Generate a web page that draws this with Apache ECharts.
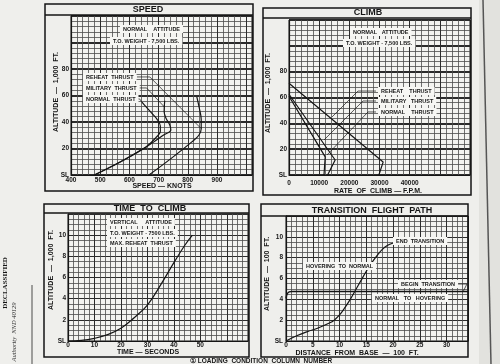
<!DOCTYPE html>
<html><head><meta charset="utf-8">
<script src="https://cdn.jsdelivr.net/npm/echarts@6/dist/echarts.min.js"></script>
<style>html,body{margin:0;padding:0;background:#efefec;}#c{width:500px;height:364px;}</style>
</head><body><div id="c"></div>
<script>
// ---------- data ----------
// SPEED panel: [speed knots, altitude 1000 ft]
const speedNormal   = [[480,0],[570,10],[656,21],[690,28],[706,33],[706,37],[695,42],[675,47],[655,52],[643,55]];
const speedMilitary = [[480,0],[570,10],[656,21],[684,25],[716,30],[742,34],[738,38],[725,43],[719,48],[720,53],[721,56]];
const speedReheat   = [[667,0],[740,12],[814,25],[838,30],[846,35],[846,42],[840,50],[831,59]];
const speedXLabels  = [400,500,600,700,800,900];
const altLabels     = [0,20,40,60,80];
// CLIMB panel: [rate of climb fpm, altitude 1000 ft]
const climbReheat   = [[0,71],[31200,10],[29800,0]];
const climbMilitary = [[0,62.5],[15300,11.6],[12800,0]];
const climbNormal   = [[0,61],[12000,14],[11600,0]];
const climbXLabels  = [0,10000,20000,30000,40000];
// TIME TO CLIMB panel
const timeSeconds   = [0,5,10,15,20,25,30,35,40,44,47];
const timeAltitude  = [0,0.05,0.25,0.6,1.2,2.2,3.4,5.3,7.4,9,10];
const timeXLabels   = [0,10,20,30,40,50];
const smallAltLabels= [0,2,4,6,8,10];
// TRANSITION FLIGHT PATH panel: [distance 100 ft, altitude 100 ft]
const hoverToNormal = [[0,0],[2,0.5],[4,0.9],[6,1.25],[8,1.7],[9,2.0],[10,2.5],[11,3.2],[12,4.0],[13,4.9],[14,5.8],[15,6.7],[16,7.5],[17,8.2],[18,8.8],[19,9.2],[20,9.4],[21,9.5]];
const normalToHover = [[0,4.1],[0.3,4.6],[1,4.75],[34,4.75]];
const distXLabels   = [0,5,10,15,20,25,30];
// annotation leader lines (data space)
const leadSpeedReheat = [[626,74],[670,74],[846,35]];
const leadSpeedMil    = [[611,65.7],[659,65.7],[720,51.3]];
const leadSpeedNorm   = [[611,57.4],[635,57.4],[643,55]];
const leadClimbReheat = [[28840,65],[22870,65],[14250,44.9]];
const leadClimbMil    = [[28840,57.3],[24530,57.3],[11600,27.1]];
const leadClimbNorm   = [[28840,48.8],[26190,48.8],[12600,15.5]];
const leadBegin       = [[30.3,5.47],[33.8,5.47],[33.1,4.75]];

// ---------- chart ----------
const FONT = '"Liberation Sans", Arial, sans-serif';
const INK = '#151515';
const chart = echarts.init(document.getElementById('c'), null, {renderer:'canvas'});

function mkAxis(type, gi, min, max, interval, minorN, labels, majorW, margin, isY){
  return {
    type:'value', gridIndex:gi, min, max, interval,
    axisLine:{show:true, lineStyle:{color:INK, width:1.2}},
    axisTick:{show:false},
    minorTick:{show:false, splitNumber:minorN},
    splitLine:{show:true, lineStyle:{color:'#2b2b2b', width:majorW}},
    minorSplitLine:{show:true, lineStyle:{color:'#4d4d4d', width:0.8}},
    axisLabel:{
      show:true, margin, color:INK, fontFamily:FONT, fontWeight:'bold', fontSize: isY?6.5:6.5,
      showMinLabel:true, showMaxLabel:true,
      formatter: v => labels.indexOf(v) < 0 ? '' : (isY && v===0 ? 'SL' : String(v))
    }
  };
}
function ln(data, gi, w, smooth){
  return {type:'line', xAxisIndex:gi, yAxisIndex:gi, data, symbol:'none', showSymbol:false,
    smooth: smooth||false, silent:true, animation:false, z:5,
    lineStyle:{color:INK, width:w}};
}
function T(text, x, y, size, extra){
  return {type:'text', x, y, z:100, silent:true,
    style:Object.assign({text, font:'bold '+size+'px '+FONT, fill:INK,
      textAlign:'left', textVerticalAlign:'middle'}, extra||{})};
}
function R(text, x, y, size, extra){
  const t = T(text, x, y, size, Object.assign({textAlign:'center'}, extra||{}));
  t.rotation = Math.PI/2; return t;
}
const BOX = {backgroundColor:'#f7f7f4', padding:[1,3]};
function frame(x,y,w,h,barY){
  return [
    {type:'rect', z:90, silent:true, shape:{x,y,width:w,height:h}, style:{fill:'none', stroke:INK, lineWidth:1.5}},
    {type:'line', z:90, silent:true, shape:{x1:x,y1:barY,x2:x+w,y2:barY}, style:{stroke:INK, lineWidth:1.3}}
  ];
}

const gridBase = {show:true, backgroundColor:'#f3f3f0', borderColor:INK, borderWidth:1, containLabel:false};
const option = {
  backgroundColor:'#efefec',
  animation:false,
  grid:[
    Object.assign({left:71, top:16, width:181, height:159}, gridBase),
    Object.assign({left:289, top:20, width:181, height:155}, gridBase),
    Object.assign({left:68, top:214, width:180, height:127}, gridBase),
    Object.assign({left:286, top:216, width:182, height:125}, gridBase)
  ],
  xAxis:[
    mkAxis('x',0,400,1020,100,5,speedXLabels,1,2,false),
    mkAxis('x',1,0,60000,10000,5,climbXLabels,1,5,false),
    mkAxis('x',2,0,68,10,5,timeXLabels,1,1,false),
    mkAxis('x',3,0,34,5,5,distXLabels,1,1,false)
  ],
  yAxis:[
    mkAxis('y',0,0,120,20,5,altLabels,2,2,true),
    mkAxis('y',1,0,120,20,5,altLabels,2,2,true),
    mkAxis('y',2,0,12,2,4,smallAltLabels,1,2,true),
    mkAxis('y',3,0,12,2,4,smallAltLabels,1,3,true)
  ],
  series:[
    ln(speedNormal,0,1.2,0.35), ln(speedMilitary,0,1.2,0.35), ln(speedReheat,0,1.2,0.35),
    ln(leadSpeedReheat,0,0.7), ln(leadSpeedMil,0,0.7), ln(leadSpeedNorm,0,0.7),
    ln(climbReheat,1,1.2), ln(climbMilitary,1,1.2), ln(climbNormal,1,1.2),
    ln(leadClimbReheat,1,0.7), ln(leadClimbMil,1,0.7), ln(leadClimbNorm,1,0.7),
    ln(timeSeconds.map((t,i)=>[t,timeAltitude[i]]),2,1.2,0.4),
    ln(hoverToNormal,3,1.2,0.4), ln(normalToHover,3,1.4,0.3), ln(leadBegin,3,0.7)
  ],
  graphic:{elements:[
    // page edge decorations
    {type:'rect', z:-1, silent:true, shape:{x:479,y:0,width:21,height:364}, style:{fill:'#e2e2de'}},
    {type:'line', z:1, silent:true, shape:{x1:483,y1:0,x2:491,y2:364}, style:{stroke:'#555', lineWidth:1.5}},
    {type:'line', z:1, silent:true, shape:{x1:32,y1:285,x2:32,y2:364}, style:{stroke:'#666', lineWidth:1.2}},
    ...frame(45,4,208,187,15),
    ...frame(263,8,208,187,18),
    ...frame(44,204,205,153,213),
    ...frame(261,204,207,153,216),
    // titles
    T('SPEED',148,10,9,{textAlign:'center'}),
    T('CLIMB',368,13,9,{textAlign:'center'}),
    T('TIME  TO  CLIMB',150,209,9,{textAlign:'center'}),
    T('TRANSITION  FLIGHT  PATH',372,210.5,9,{textAlign:'center'}),
    // axis names
    R('ALTITUDE  —  1,000  FT.',56,92,7),
    T('SPEED — KNOTS',162,186,7,{textAlign:'center'}),
    R('ALTITUDE  —  1,000  FT.',268,93,7),
    T('RATE  OF  CLIMB — F.P.M.',378,191,7,{textAlign:'center'}),
    R('ALTITUDE  —  1,000  FT.',51,270,7),
    T('TIME — SECONDS',148,352,7,{textAlign:'center'}),
    R('ALTITUDE  —  100  FT.',267,274,7),
    T('DISTANCE  FROM  BASE  —  100  FT.',357,353,7,{textAlign:'center'}),
    // speed annotations
    T('NORMAL    ATTITUDE',120,29,5.5,BOX),
    T('T.O. WEIGHT - 7,500 LBS.',110,41,5.5,BOX),
    T('REHEAT  THRUST',83,77,5.5,BOX),
    T('MILITARY  THRUST',83,88,5.5,BOX),
    T('NORMAL  THRUST',83,99,5.5,BOX),
    // climb annotations
    T('NORMAL   ATTITUDE',350,32,5.5,BOX),
    T('T.O. WEIGHT - 7,500 LBS.',343,43,5.5,BOX),
    T('REHEAT    THRUST',378,91,5.5,BOX),
    T('MILITARY   THRUST',378,101,5.5,BOX),
    T('NORMAL    THRUST',378,112,5.5,BOX),
    // time annotations
    T('VERTICAL     ATTITUDE',107,222,5.5,BOX),
    T('T.O. WEIGHT - 7500 LBS.',107,233,5.5,BOX),
    T('MAX. REHEAT  THRUST',107,243,5.5,BOX),
    // transition annotations
    T('END  TRANSITION',393,241,5.5,BOX),
    T('HOVERING  TO  NORMAL',303,266,5.5,BOX),
    T('BEGIN  TRANSITION',398,284,5.5,BOX),
    T('NORMAL   TO   HOVERING',372,298,5.5,BOX),
    // footer & stamp
    T('① LOADING  CONDITION  COLUMN  NUMBER',190,361,6.5),
    R('DECLASSIFIED',5,283,7,{font:'bold 7px "Liberation Serif", serif'}),
    R('Authority  NND 40129',14,332,6.5,{font:'italic 6.5px "Liberation Serif", serif', fill:'#333'})
  ]}
};
chart.setOption(option);
</script>
</body></html>
